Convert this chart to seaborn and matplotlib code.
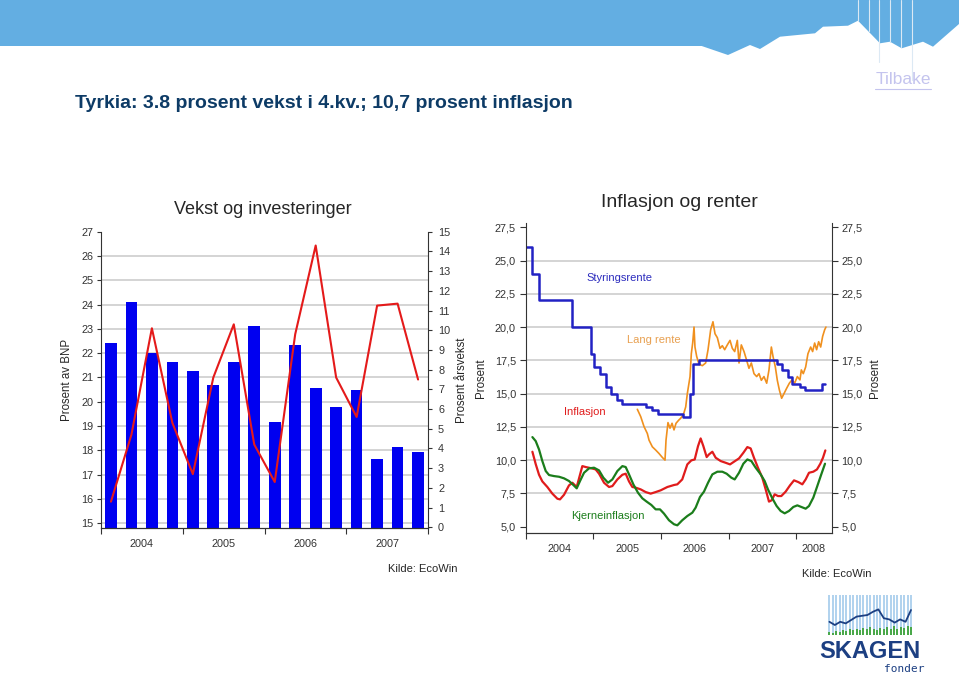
import numpy as np
import pandas as pd
import matplotlib
matplotlib.use('Agg')
import matplotlib.pyplot as plt
import seaborn as sns
from matplotlib.patches import Polygon
from matplotlib.lines import Line2D

# --- venstre figur: kvartalstall 2004-2007 ---
quarters = ['04K1', '04K2', '04K3', '04K4', '05K1', '05K2', '05K3', '05K4',
            '06K1', '06K2', '06K3', '06K4', '07K1', '07K2', '07K3', '07K4']
invest_bnp = [22.4, 24.1, 22.0, 21.65, 21.25, 20.7, 21.65, 23.1,
              19.15, 22.35, 20.55, 19.8, 20.5, 17.65, 18.15, 17.95]
vekst = [1.3, 4.7, 10.1, 5.3, 2.7, 7.6, 10.3, 4.2,
         2.3, 9.8, 14.3, 7.6, 5.6, 11.25, 11.35, 7.5]
year_labels_l = ['2004', '2005', '2006', '2007']

# --- hoyre figur: renter og inflasjon (tid i desimalaar) ---
styr_t = [2004.0, 2004.09, 2004.2, 2004.68, 2004.96, 2005.01, 2005.1, 2005.18,
          2005.26, 2005.35, 2005.43, 2005.78, 2005.86, 2005.95, 2006.33, 2006.43,
          2006.48, 2006.56, 2007.71, 2007.79, 2007.87, 2007.94, 2008.05, 2008.13,
          2008.38, 2008.43]
styr_v = [26.0, 24.0, 22.0, 20.0, 18.0, 17.0, 16.5, 15.5,
          15.0, 14.5, 14.25, 14.0, 13.75, 13.5, 13.25, 15.0,
          17.25, 17.5, 17.25, 16.75, 16.25, 15.75, 15.5, 15.25,
          15.75, 15.75]

lang_t = [2005.65, 2005.7, 2005.749, 2005.798, 2005.823, 2005.872, 2005.921, 2005.97,
          2006.02, 2006.059, 2006.074, 2006.103, 2006.133, 2006.163, 2006.192, 2006.222,
          2006.261, 2006.291, 2006.33, 2006.365, 2006.389, 2006.429, 2006.448, 2006.468,
          2006.488, 2006.502, 2006.527, 2006.562, 2006.611, 2006.66, 2006.695, 2006.734,
          2006.768, 2006.798, 2006.833, 2006.872, 2006.906, 2006.941, 2006.98, 2007.02,
          2007.054, 2007.089, 2007.128, 2007.153, 2007.187, 2007.227, 2007.266, 2007.3,
          2007.335, 2007.374, 2007.414, 2007.448, 2007.483, 2007.522, 2007.562, 2007.596,
          2007.631, 2007.655, 2007.69, 2007.719, 2007.749, 2007.783, 2007.818, 2007.857,
          2007.897, 2007.936, 2007.975, 2008.015, 2008.054, 2008.074, 2008.103, 2008.138,
          2008.172, 2008.212, 2008.241, 2008.271, 2008.3, 2008.33, 2008.36, 2008.389,
          2008.419, 2008.438]
lang_v = [13.82, 13.27, 12.52, 12.0, 11.5, 11.0, 10.76, 10.5,
          10.2, 10.0, 11.5, 12.82, 12.4, 12.77, 12.27, 12.77,
          13.0, 13.15, 13.4, 14.0, 15.0, 16.28, 18.0, 18.8,
          20.0, 18.5, 17.8, 17.2, 17.1, 17.3, 18.3, 19.8,
          20.4, 19.5, 19.2, 18.4, 18.6, 18.3, 18.66, 19.0,
          18.4, 18.16, 19.0, 17.3, 18.66, 18.16, 17.5, 16.9,
          17.3, 16.5, 16.28, 16.5, 16.0, 16.28, 15.78, 16.78,
          18.5, 17.8, 17.0, 16.0, 15.28, 14.65, 15.0, 15.4,
          15.78, 16.03, 15.78, 16.28, 16.03, 16.78, 16.5, 17.0,
          18.0, 18.5, 18.16, 18.8, 18.3, 18.9, 18.5, 19.3,
          19.8, 20.0]

infl_t = [2004.099, 2004.148, 2004.197, 2004.246, 2004.32, 2004.394, 2004.468, 2004.507,
          2004.567, 2004.64, 2004.69, 2004.754, 2004.837, 2004.887, 2004.961, 2005.034,
          2005.084, 2005.158, 2005.232, 2005.281, 2005.355, 2005.429, 2005.478, 2005.527,
          2005.576, 2005.626, 2005.7, 2005.773, 2005.847, 2005.921, 2005.995, 2006.094,
          2006.192, 2006.241, 2006.314, 2006.389, 2006.448, 2006.498, 2006.547, 2006.586,
          2006.626, 2006.675, 2006.709, 2006.759, 2006.808, 2006.882, 2006.956, 2007.02,
          2007.079, 2007.153, 2007.217, 2007.276, 2007.325, 2007.374, 2007.433, 2007.497,
          2007.547, 2007.596, 2007.635, 2007.68, 2007.729, 2007.778, 2007.842, 2007.906,
          2007.966, 2008.03, 2008.089, 2008.138, 2008.187, 2008.251, 2008.305, 2008.355,
          2008.394, 2008.429]
infl_v = [10.63, 9.7, 8.9, 8.4, 7.98, 7.48, 7.1, 7.05,
          7.4, 8.1, 8.3, 7.98, 9.55, 9.48, 9.4, 9.3,
          8.98, 8.3, 7.98, 8.05, 8.55, 8.9, 8.98, 8.4,
          7.98, 7.93, 7.8, 7.6, 7.48, 7.6, 7.73, 7.98,
          8.13, 8.18, 8.55, 9.68, 9.98, 10.05, 11.05, 11.63,
          11.05, 10.23, 10.43, 10.63, 10.18, 9.93, 9.8, 9.68,
          9.88, 10.13, 10.55, 10.98, 10.88, 10.18, 9.43, 8.68,
          7.8, 6.88, 6.98, 7.43, 7.3, 7.3, 7.63, 8.1,
          8.48, 8.35, 8.18, 8.55, 9.05, 9.13, 9.3, 9.73,
          10.18, 10.73]

kjerne_t = [2004.099, 2004.148, 2004.197, 2004.246, 2004.296, 2004.345, 2004.419, 2004.493,
            2004.567, 2004.64, 2004.704, 2004.754, 2004.803, 2004.862, 2004.936, 2005.01,
            2005.084, 2005.148, 2005.217, 2005.281, 2005.355, 2005.429, 2005.478, 2005.527,
            2005.591, 2005.66, 2005.724, 2005.788, 2005.857, 2005.921, 2005.985, 2006.044,
            2006.118, 2006.192, 2006.241, 2006.314, 2006.389, 2006.463, 2006.512, 2006.576,
            2006.635, 2006.695, 2006.759, 2006.833, 2006.906, 2006.97, 2007.039, 2007.089,
            2007.153, 2007.217, 2007.276, 2007.335, 2007.399, 2007.473, 2007.532, 2007.581,
            2007.645, 2007.709, 2007.768, 2007.828, 2007.892, 2007.956, 2008.015, 2008.074,
            2008.138, 2008.187, 2008.251, 2008.31, 2008.369, 2008.424]
kjerne_v = [11.73, 11.43, 10.8, 9.93, 9.18, 8.88, 8.8, 8.75,
            8.63, 8.43, 8.13, 7.88, 8.43, 9.05, 9.38, 9.43,
            9.23, 8.68, 8.3, 8.55, 9.18, 9.55, 9.48, 8.93,
            8.18, 7.55, 7.13, 6.88, 6.63, 6.3, 6.3, 5.98,
            5.48, 5.18, 5.1, 5.48, 5.8, 6.05, 6.43, 7.23,
            7.63, 8.3, 8.93, 9.13, 9.13, 8.98, 8.68, 8.55,
            9.05, 9.73, 10.05, 9.93, 9.43, 8.93, 8.43, 7.8,
            7.13, 6.55, 6.18, 6.0, 6.18, 6.48, 6.6, 6.48,
            6.35, 6.55, 7.18, 8.05, 8.93, 9.73]

rente_ticks = [5.0, 7.5, 10.0, 12.5, 15.0, 17.5, 20.0, 22.5, 25.0, 27.5]
rente_ticklabels = ['5,0', '7,5', '10,0', '12,5', '15,0', '17,5', '20,0', '22,5', '25,0', '27,5']
year_labels_r = ['2004', '2005', '2006', '2007', '2008']

# logo-pynt
logo_line = [0.33, 0.25, 0.33, 0.29, 0.375, 0.46, 0.48, 0.5, 0.58, 0.64, 0.42, 0.39, 0.31, 0.39, 0.33, 0.625]
logo_green = [0.08, 0.06, 0.1, 0.08, 0.12, 0.1, 0.14, 0.12, 0.16, 0.12, 0.18, 0.14, 0.2,
              0.16, 0.12, 0.18, 0.14, 0.2, 0.16, 0.22, 0.16, 0.2, 0.18, 0.22, 0.2]

sns.set_style('ticks')
plt.rcParams['font.family'] = ['Liberation Sans', 'DejaVu Sans']
plt.rcParams['axes.edgecolor'] = '#333333'
plt.rcParams['xtick.color'] = '#333333'
plt.rcParams['ytick.color'] = '#333333'

W, H = 959, 675
fig = plt.figure(figsize=(9.59, 6.75), dpi=100)

def fx(px):
    return px / W

def fy(py):
    return 1 - py / H

# header
band = [(0, 0), (959, 0), (959, 24), (933, 46.7), (923, 41.7), (901.7, 48.3), (890, 41.7),
        (880, 43.3), (858, 20.7), (848, 25.7), (823, 26.7), (815, 33.3), (780, 36.7),
        (760, 49), (750, 45), (728, 55), (701.7, 46), (0, 46)]
fig.add_artist(Polygon([(fx(a), fy(b)) for a, b in band], closed=True,
                       facecolor='#63aee2', edgecolor='none', transform=fig.transFigure))
for xl, yb in [(858, 21), (869, 31), (879, 62), (890, 42), (901, 47), (912, 80)]:
    fig.add_artist(Line2D([fx(xl), fx(xl)], [fy(0), fy(yb)], color='#dce9f4', lw=0.8,
                          transform=fig.transFigure))

fig.text(fx(75), fy(104), 'Tyrkia: 3.8 prosent vekst i 4.kv.; 10,7 prosent inflasjon',
         ha='left', va='center', size=14, weight='bold', color='#0d3b66')
fig.text(fx(903), fy(79), 'Tilbake', ha='center', va='center', size=12.5, color='#c4c4ee')
fig.add_artist(Line2D([fx(875), fx(931)], [fy(89), fy(89)], color='#c4c4ee', lw=0.8,
                      transform=fig.transFigure))

# ---------------- venstre figur ----------------
ax1 = fig.add_axes([fx(100.7), fy(528.3), fx(428.3) - fx(100.7), fy(231.7) - fy(528.3)])
df_l = pd.DataFrame({'pos': np.arange(len(quarters)), 'kvartal': quarters,
                     'bnp': invest_bnp, 'vekst': vekst})
sns.barplot(data=df_l, x='pos', y='bnp', native_scale=True, color='#0000f0', saturation=1,
            width=0.57, errorbar=None, linewidth=0, ax=ax1)
ax1.set_axisbelow(True)
ax1.set_xlim(-0.5, 15.5)
ax1.set_ylim(14.79, 27)
ax1.set_yticks(range(15, 28))
ax1.yaxis.grid(True, color='#c9c9c9', lw=1.1)
for t, gl in zip(ax1.get_yticks(), ax1.get_ygridlines()):
    if t >= 27:
        gl.set_visible(False)
ax1.set_xticks([-0.5, 3.5, 7.5, 11.5, 15.5])
ax1.set_xticklabels([])
ax1.set_xticks([1.5, 5.5, 9.5, 13.5], minor=True)
ax1.set_xticklabels(year_labels_l, minor=True)
ax1.tick_params(axis='x', which='major', length=4, direction='out')
ax1.tick_params(axis='x', which='minor', length=0, pad=8, labelsize=7.8)
ax1.tick_params(axis='y', length=3, pad=2, labelsize=7.8)
ax1.set_xlabel('')
ax1.set_ylabel('Prosent av BNP', size=8.3)
ax1.yaxis.set_label_coords(-0.0846, 0.5)
for s in ['top', 'right']:
    ax1.spines[s].set_visible(False)

ax1r = ax1.twinx()
sns.lineplot(data=df_l, x='pos', y='vekst', color='#e41a1a', lw=1.5, ax=ax1r)
ax1r.set_ylim(-0.05, 15)
ax1r.set_yticks(range(0, 16))
ax1r.tick_params(axis='y', length=3, pad=4, labelsize=7.8)
ax1r.set_ylabel('Prosent årsvekst', size=8.3)
ax1r.yaxis.set_label_coords(1.0846, 0.5)
ax1r.spines['top'].set_visible(False)
ax1r.spines['left'].set_visible(False)
ax1r.set_xlim(-0.5, 15.5)

fig.text(fx(263), fy(209), 'Vekst og investeringer', ha='center', va='center', size=13)
fig.text(fx(458), fy(569), 'Kilde: EcoWin', ha='right', va='center', size=8)

# ---------------- hoyre figur ----------------
ax2 = fig.add_axes([fx(525.7), fy(533.3), fx(831.5) - fx(525.7), fy(223.3) - fy(533.3)])
ax2.set_axisbelow(True)
sns.lineplot(x=lang_t, y=lang_v, color='#f0901e', lw=1.2, ax=ax2)
sns.lineplot(x=styr_t, y=styr_v, color='#2222c4', lw=1.8, drawstyle='steps-post', ax=ax2)
sns.lineplot(x=infl_t, y=infl_v, color='#e01c1c', lw=1.6, ax=ax2)
sns.lineplot(x=kjerne_t, y=kjerne_v, color='#1b7d1b', lw=1.6, ax=ax2)

ax2.set_xlim(2004.0, 2008.52)
ax2.set_ylim(4.5, 27.8)
ax2.set_yticks(rente_ticks)
ax2.set_yticklabels(rente_ticklabels)
ax2.yaxis.grid(True, color='#c9c9c9', lw=1.1)
for t, gl in zip(ax2.get_yticks(), ax2.get_ygridlines()):
    if t <= 5.0 or t >= 27.5:
        gl.set_visible(False)
ax2.set_xticks([2004, 2005, 2006, 2007, 2008])
ax2.set_xticklabels([])
ax2.set_xticks([2004.5, 2005.5, 2006.5, 2007.5, 2008.26], minor=True)
ax2.set_xticklabels(year_labels_r, minor=True)
ax2.tick_params(axis='x', which='major', length=4, direction='out')
ax2.tick_params(axis='x', which='minor', length=0, pad=8, labelsize=7.8)
ax2.tick_params(axis='y', length=4, pad=3, labelsize=7.8)
ax2.set_ylabel('Prosent', size=8.3)
ax2.yaxis.set_label_coords(-0.1266, 0.5)
for s in ['top', 'right']:
    ax2.spines[s].set_visible(False)

ax2r = ax2.twinx()
ax2r.set_ylim(4.5, 27.8)
ax2r.set_yticks(rente_ticks)
ax2r.set_yticklabels(rente_ticklabels)
ax2r.tick_params(axis='y', length=4, pad=3, labelsize=7.8)
ax2r.set_ylabel('Prosent', size=8.3)
ax2r.yaxis.set_label_coords(1.1226, 0.5)
ax2r.spines['top'].set_visible(False)
ax2r.spines['left'].set_visible(False)

ax2.text(2005.38, 23.67, 'Styringsrente', color='#2b2bbd', size=8, ha='center', va='center')
ax2.text(2005.887, 19.04, 'Lang rente', color='#e8a050', size=8, ha='center', va='center')
ax2.text(2004.867, 13.6, 'Inflasjon', color='#e01c1c', size=8, ha='center', va='center')
ax2.text(2005.22, 5.83, 'Kjerneinflasjon', color='#1b7d1b', size=8, ha='center', va='center')

fig.text(fx(679), fy(202), 'Inflasjon og renter', ha='center', va='center', size=14)
fig.text(fx(871), fy(574), 'Kilde: EcoWin', ha='right', va='center', size=8)

# ---------------- logo ----------------
axl = fig.add_axes([fx(827.7), fy(635), fx(912.7) - fx(827.7), fy(595) - fy(635)])
n_str = len(logo_green)
axl.bar(np.arange(n_str), [1.0] * n_str, width=0.55, color='#b2d3ee', linewidth=0)
axl.bar(np.arange(n_str), logo_green, width=0.55, color='#4aa84a', linewidth=0)
axl.plot(np.linspace(0, n_str - 1, len(logo_line)), logo_line, color='#1c3f82', lw=1.3)
axl.set_xlim(-0.5, n_str - 0.5)
axl.set_ylim(0, 1)
axl.axis('off')
fig.text(fx(870), fy(651), 'SKAGEN', ha='center', va='center', size=17, weight='bold',
         color='#1c3f82')
fig.text(fx(904), fy(669), 'fonder', ha='center', va='center', size=8, color='#1c3f82',
         family='DejaVu Sans Mono')

fig.savefig('out.png', dpi=100)
